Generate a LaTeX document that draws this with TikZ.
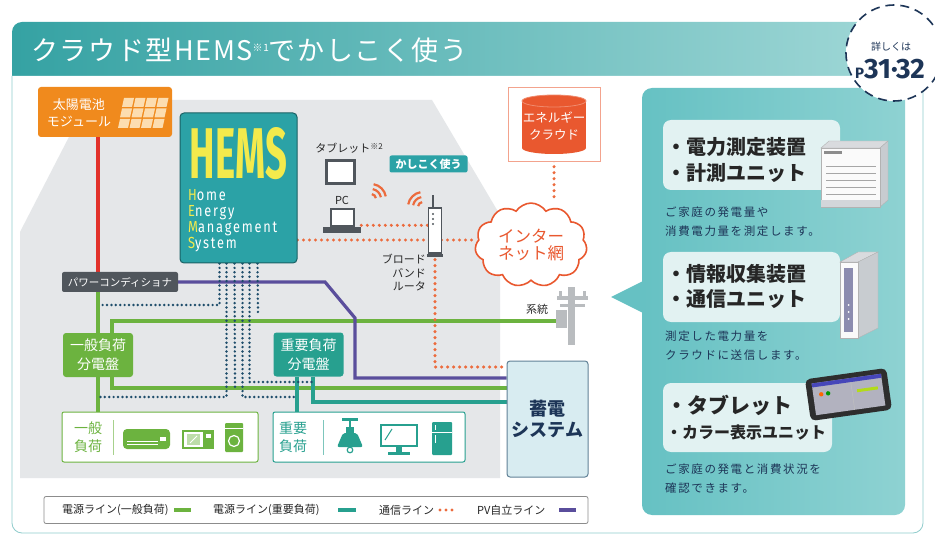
\documentclass[tikz,border=0pt]{standalone}
\usepackage{fontspec}
\setmainfont{Noto Sans CJK JP}
\newfontfamily\titlefont{Noto Sans CJK JP}[LetterSpace=6]
\newfontfamily\descfont{Noto Sans CJK JP}[LetterSpace=14]
\newfontfamily\latinfont{Fira Sans}
\newfontfamily\hemsfont{Fira Sans}[LetterSpace=14]
\usetikzlibrary{shapes.symbols,shapes.geometric}

\newcommand\fsz[2]{\fontsize{#1}{#2}\selectfont}
\newcommand\hemsword[2]{\scalebox{0.8}[1]{\textcolor{hemsyellow}{#1}#2}}

\definecolor{teal1}{HTML}{35A2A3}
\definecolor{teal2}{HTML}{A3D9D8}
\definecolor{housegrey}{HTML}{E5E7E9}
\definecolor{solarorange}{HTML}{F08A1D}
\definecolor{panelpeach}{HTML}{FCDDB0}
\definecolor{pvred}{HTML}{E2322B}
\definecolor{loadgreen}{HTML}{6CB33F}
\definecolor{keyteal}{HTML}{27A08F}
\definecolor{pvpurple}{HTML}{5A4E9C}
\definecolor{commorange}{HTML}{EC6B3D}
\definecolor{dotnavy}{HTML}{1E4D6B}
\definecolor{hemsteal}{HTML}{2BA2A6}
\definecolor{hemsyellow}{HTML}{F3EA4C}
\definecolor{panelteal}{HTML}{66C1C3}
\definecolor{panelteal2}{HTML}{8ED2D2}
\definecolor{cardbg}{HTML}{E2F2F2}
\definecolor{inknavy}{HTML}{1D3557}
\definecolor{pcsgrey}{HTML}{50565C}
\definecolor{storagebg}{HTML}{D8ECF1}
\definecolor{cloudred}{HTML}{E9582F}
\definecolor{polegrey}{HTML}{B9BCBF}
\definecolor{devgrey}{HTML}{C8CCD0}

\pgfdeclarelayer{canvas}
\pgfdeclarelayer{house}
\pgfdeclarelayer{wires}
\pgfsetlayers{canvas,house,wires,main}

\begin{document}
\begin{tikzpicture}[x=1pt,y=-1pt,
  wire/.style={line width=3.2pt},
  pvfeed/.style={wire, draw=pvred},
  greenline/.style={wire, draw=loadgreen},
  keyline/.style={wire, draw=keyteal},
  pvline/.style={wire, draw=pvpurple},
  commline/.style={draw=commorange, line width=3.4pt, line cap=round, dash pattern=on 0pt off 6pt},
  ctrlline/.style={draw=dotnavy, line width=2.7pt, line cap=round, dash pattern=on 0pt off 4.4pt},
  panelbox/.style={rounded corners=3pt, minimum width=70pt, minimum height=44pt, text=white, align=center, inner sep=0pt, font=\fsz{14}{19}},
  loadbox/.style={fill=white, line width=1pt, rounded corners=2pt, minimum width=#1, minimum height=50pt},
  loadlabel/.style={align=center, inner sep=0pt, font=\fsz{14}{18}},
  card/.style={fill=cardbg, rounded corners=8pt},
  cardhead/.style={anchor=west, inner sep=0pt, font=\bfseries\fsz{20}{20}, text=black!85},
  carddesc/.style={anchor=north west, inner sep=0pt, align=left, font=\descfont\fsz{11.5}{19}, text=inknavy},
  legendtext/.style={anchor=west, inner sep=0pt, font=\fsz{11}{11}, text=black!85},
  smalltext/.style={inner sep=0pt, font=\fsz{11}{13.5}, text=black!85},
  hemsline/.style={anchor=base west, inner sep=0pt, text=white, font=\hemsfont\fsz{16}{16}}
]
\useasboundingbox (0,0) rectangle (935,540);

% ---------- page, header band and frame ----------
\begin{pgfonlayer}{canvas}
\fill[white] (0,0) rectangle (935,540);
\shade[left color=teal1, right color=teal2, rounded corners=10pt] (12,22) rectangle (923,100);
\filldraw[fill=white, draw=teal1!55, line width=0.8pt, rounded corners=10pt] (12,76) -- (12,533) -- (923,533) -- (923,76);
\end{pgfonlayer}
\node[anchor=west, text=white, inner sep=0pt, font=\titlefont\fsz{27}{27}] (title) at (31,50)
  {クラウド型HEMS\raisebox{9pt}{\fsz{10}{10}※1}でかしこく使う};

% ---------- house ----------
\begin{pgfonlayer}{house}
\fill[housegrey] (20,478) -- (20,232) -- (88,100) -- (432,100) -- (500,215) -- (500,478) -- cycle;
\end{pgfonlayer}

% ---------- equipment ----------
\node[fill=solarorange, rounded corners=3pt, minimum width=134pt, minimum height=50pt] (solar) at (105,112) {};
\node[text=white, align=center, font=\fsz{13}{17}, inner sep=0pt] (solarlbl) at (79,113) {太陽電池\\モジュール};
\foreach \i in {0,...,3}
  \foreach \j in {0,...,2} {
    \pgfmathsetmacro\cx{118+\i*11.5+\j*2}
    \pgfmathsetmacro\cy{128-\j*10.5}
    \fill[panelpeach] (\cx,\cy) -- ++(10,0) -- ++(2,-9) -- ++(-10,0) -- cycle;
  }

\node[fill=pcsgrey, rounded corners=2pt, minimum width=116pt, minimum height=20pt, text=white, font=\fsz{10.5}{10.5}, inner sep=0pt] (pcs) at (120,282) {パワーコンディショナ};

\node[draw=hemsteal!60!black, fill=hemsteal, rounded corners=4pt, line width=1pt, minimum width=117pt, minimum height=150pt] (hems) at (238.5,188) {};
\node[text=hemsyellow, inner sep=0pt] (hemslogo) at (238.5,153.5) {\resizebox{97pt}{51pt}{\latinfont\bfseries HEMS}};
\node[hemsline] (hemsH) at (188,200.5) {\hemsword{H}{ome}};
\node[hemsline] (hemsE) at (188,216.5) {\hemsword{E}{nergy}};
\node[hemsline] (hemsM) at (188,232.5) {\hemsword{M}{anagement}};
\node[hemsline] (hemsS) at (188,248.5) {\hemsword{S}{ystem}};

% tablet and PC
\node[smalltext] (tabletlbl) at (349,148) {タブレット\raisebox{3pt}{\fsz{8}{8}※2}};
\node[draw=pcsgrey, line width=3pt, fill=white, minimum width=28pt, minimum height=23pt, inner sep=0pt] (tablet) at (340,172) {};
\node[smalltext] (pclbl) at (342,200) {PC};
\node[draw=pcsgrey, line width=2.6pt, fill=white, minimum width=23pt, minimum height=17pt, inner sep=0pt] (pc) at (342.5,217.5) {};
\fill[pcsgrey] (323,227) rectangle (361,233);

% wireless marks
\foreach \r in {5,10,15}
  \draw[commorange, line width=2.2pt] (371,199) ++(-80:\r) arc[start angle=-80, end angle=-10, radius=\r];
\foreach \r in {5,10,15}
  \draw[commorange, line width=2.2pt] (423,207) ++(190:\r) arc[start angle=190, end angle=260, radius=\r];

\node[fill=hemsteal, rounded corners=2pt, text=white, font=\bfseries\fsz{11}{11}, minimum width=78pt, minimum height=17pt, inner sep=0pt] (smart) at (428.5,164) {かしこく使う};

% router
\node[draw=pcsgrey, fill=white, line width=1.3pt, minimum width=13pt, minimum height=45pt, inner sep=0pt] (router) at (435,230.5) {};
\draw[pcsgrey, line width=1.5pt] ([xshift=-2pt]router.north) -- ++(0,-12);
\fill[pcsgrey] ([xshift=-8pt]router.south) rectangle ([xshift=8pt,yshift=-3pt]router.south);
\foreach \dy in {214,219,224} \fill[pcsgrey] (433,\dy) circle (1.1);
\node[smalltext, anchor=north east, align=right] (routerlbl) at (426,254) {ブロード\\バンド\\ルータ};

% energy cloud
\node[draw=cloudred!55, fill=white, line width=1pt, minimum width=92pt, minimum height=74pt] (ecloudbox) at (554,125) {};
\fill[cloudred] (522,101) rectangle (586,148);
\fill[cloudred] (554,148) ellipse [x radius=32, y radius=6];
\filldraw[fill=cloudred, draw=cloudred!70!white, line width=0.8pt] (554,101) ellipse [x radius=32, y radius=6];
\node[text=white, align=center, font=\fsz{12.5}{17}, inner sep=0pt, minimum width=64pt, minimum height=57pt] (ecloud) at (554,126) {エネルギー\\クラウド};

% internet
\node[cloud, cloud puffs=11, cloud puff arc=115, aspect=1.45, draw=cloudred, fill=white, line width=1.6pt,
  minimum width=112pt, minimum height=80pt, text=cloudred, align=center, font=\fsz{16.5}{17}] (inet) at (531,245) {インター\\ネット網};

% utility grid pole
\node[smalltext] (gridlbl) at (537,309) {系統};
\fill[polegrey] (568,287) rectangle (575,345);
\fill[polegrey] (557,296) rectangle (588,300);
\fill[polegrey] (560,304) rectangle (585,307);
\fill[polegrey] (559,291) rectangle (562,296);
\fill[polegrey] (583,291) rectangle (586,296);
\fill[polegrey] (556,310) rectangle (567,328);
\coordinate (gridtap) at (557,321);

% storage
\node[draw=dotnavy!70, fill=storagebg, rounded corners=3pt, line width=1pt, minimum width=81pt, minimum height=116pt,
  text=inknavy, align=center, font=\bfseries\fsz{18}{21}] (storage) at (547.5,419) {蓄電\\システム};

% distribution panels
\node[panelbox, fill=loadgreen] (genpanel) at (98,355) {一般負荷\\分電盤};
\node[panelbox, fill=keyteal] (imppanel) at (308.5,354.5) {重要負荷\\分電盤};

% general loads
\node[loadbox=196pt, draw=loadgreen] (genload) at (160,437) {};
\node[loadlabel, text=loadgreen] (genloadlbl) at (88,437) {一般\\負荷};
\draw[loadgreen!60, line width=0.8pt] (113,420) -- (113,455);
\fill[loadgreen, rounded corners=4pt] (123,429) rectangle (170,449);
\draw[white, line width=0.8pt] (127,441) -- (158,441) (127,444.5) -- (158,444.5);
\fill[white] (160,437) rectangle (166,441);
\filldraw[fill=white, draw=loadgreen, line width=2pt] (183,431) rectangle (213,448);
\fill[loadgreen] (203,431) rectangle (213,448);
\fill[white] (205.5,434) rectangle (210.5,438);
\fill[loadgreen!45] (187,434) rectangle (200,445);
\draw[white, line width=1pt] (190,443) -- (197,436);
\fill[loadgreen, rounded corners=1pt] (225,423) rectangle (243,452);
\draw[white, line width=0.8pt] (225,428) -- (243,428);
\draw[white, line width=1.2pt] (234,441) circle (5.5);

% important loads
\node[loadbox=192pt, draw=keyteal] (impload) at (369,437) {};
\node[loadlabel, text=keyteal] (imploadlbl) at (293,437) {重要\\負荷};
\draw[keyteal!60, line width=0.8pt] (323,420) -- (323,455);
\fill[keyteal] (342,418) rectangle (358,420.5);
\draw[keyteal, line width=1.5pt] (350,420) -- (350,429);
\fill[keyteal] (346,427) rectangle (354,433);
\fill[keyteal, rounded corners=2pt] (337,447) -- (343,433) -- (357,433) -- (363,447) -- cycle;
\draw[keyteal, line width=1.2pt] (350,450) circle (2.8);
\draw[keyteal, line width=2.6pt] (381,425) rectangle (417,446);
\draw[keyteal, line width=1pt] (385,440) -- (392,429);
\fill[keyteal] (396,446) rectangle (402,452);
\fill[keyteal] (388,452) rectangle (410,455);
\fill[keyteal, rounded corners=1pt] (432,422) rectangle (452,455);
\draw[white, line width=0.9pt] (432,432) -- (452,432);
\draw[white, line width=1pt] (435.5,425) -- (435.5,430) (435.5,435) -- (435.5,443);

% ---------- wiring ----------
\coordinate (pvbend1) at (325,282);
\coordinate (pvbend2) at (355,318);
\coordinate (hemsport) at ([yshift=-52pt]hems.east);
\coordinate (tapA) at (102,305);
\coordinate (tapB) at (98,397);
\coordinate (tapC) at (235,390);
\coordinate (tapD) at (297,397);
\coordinate (tapE) at (313,382);
\coordinate (tapF) at (258,316);

\begin{pgfonlayer}{wires}
\draw[pvfeed] (solar.south -| genpanel) -- (pcs.north -| genpanel);
\draw[greenline] (pcs.south -| genpanel) -- (genpanel.north);
\draw[greenline] (genpanel.south) -- (genload.north -| genpanel);
\draw[greenline] ([xshift=14pt]genpanel.north) |- (gridtap);
\draw[greenline] ([xshift=14pt]genpanel.south) |- ([yshift=31pt]storage.west);
\draw[pvline] (pcs.east) -- (pvbend1) -- (pvbend2) |- ([yshift=41pt]storage.west);
\draw[keyline] ([xshift=4.5pt]imppanel.south) |- ([yshift=17pt]storage.west);
\draw[keyline] ([xshift=-11.5pt]imppanel.south) -- ([xshift=-11.5pt]imppanel.south |- impload.north);
% measuring / control bundle from HEMS
\draw[ctrlline] ([xshift=-19pt]hems.south) |- (tapA);
\draw[ctrlline] ([xshift=-12pt]hems.south) |- (tapB);
\draw[ctrlline] ([xshift=-4pt]hems.south) -- (tapC);
\draw[ctrlline] ([xshift=4pt]hems.south) |- (tapD);
\draw[ctrlline] ([xshift=11pt]hems.south) |- (tapE);
\draw[ctrlline] ([xshift=19pt]hems.south) -- (tapF);
% communication lines
\draw[commline] (hemsport) -- (hemsport -| inet.west);
\draw[commline] ([xshift=6pt,yshift=2pt]pc.south east) -- ([xshift=6pt,yshift=2pt]pc.south east -| router.west);
\draw[commline] (router.south) |- ([yshift=52pt]storage.west);
\draw[commline] (ecloud.south) -- (ecloud.south |- inet.north);
\end{pgfonlayer}

% ---------- legend ----------
\node[draw=black!45, fill=white, rounded corners=2pt, line width=0.8pt, minimum width=544pt, minimum height=27pt] (legend) at (316,510) {};
\node[legendtext] (legA) at (62,510) {電源ライン(一般負荷)};
\draw[greenline, line width=3.4pt] (174,510) -- (191,510);
\node[legendtext] (legB) at (213,510) {電源ライン(重要負荷)};
\draw[keyline, line width=3.4pt] (338,510) -- (356,510);
\node[legendtext] (legC) at (379,510) {通信ライン};
\draw[commline, dash pattern=on 0pt off 6pt] (440,510) -- (455,510);
\node[legendtext] (legD) at (477,510) {PV自立ライン};
\draw[pvline, line width=3.4pt] (559,510) -- (576,510);

% ---------- equipment panel ----------
\shade[left color=panelteal, right color=panelteal2, rounded corners=10pt] (642,88) rectangle (905,515);
\fill[panelteal] (643,281) -- (611,297) -- (643,313) -- cycle;

\node[card, minimum width=177pt, minimum height=70pt] (card1) at (751.5,155) {};
\node[cardhead] (card1a) at (666,147) {・電力測定装置};
\node[cardhead] (card1b) at (666,173) {・計測ユニット};
\node[carddesc] (card1d) at (665,207) {ご家庭の発電量や\\消費電力量を測定します。};

\node[card, minimum width=177pt, minimum height=70pt] (card2) at (751.5,287) {};
\node[cardhead] (card2a) at (666,274) {・情報収集装置};
\node[cardhead] (card2b) at (666,299) {・通信ユニット};
\node[carddesc] (card2d) at (665,331) {測定した電力量を\\クラウドに送信します。};

\node[card, minimum width=169pt, minimum height=69pt] (card3) at (747.5,417.5) {};
\node[cardhead, font=\bfseries\fsz{21}{21}] (card3a) at (666,405) {・タブレット};
\node[cardhead, font=\bfseries\fsz{16}{16}] (card3b) at (666,432) {・カラー表示ユニット};
\node[carddesc] (card3d) at (665,464) {ご家庭の発電と消費状況を\\確認できます。};

% measuring unit
\filldraw[fill=devgrey!70, draw=black!30, line width=0.4pt] (821,148) -- (829,141) -- (888,141) -- (880,148) -- cycle;
\filldraw[fill=devgrey, draw=black!30, line width=0.4pt] (880,148) -- (888,141) -- (888,200) -- (880,207) -- cycle;
\filldraw[fill=white!96!gray, draw=black!30, line width=0.4pt] (821,148) rectangle (880,207);
\fill[black!45] (824,151) rectangle (842,154);
\foreach \ly in {166,173,180,187,194} \draw[black!35, line width=0.6pt] (826,\ly) -- (876,\ly);
\fill[devgrey!80] (821,200) rectangle (880,207);

% communication unit
\filldraw[fill=devgrey!70, draw=black!30, line width=0.4pt] (840,262) -- (858,252) -- (878,252) -- (858,262) -- cycle;
\filldraw[fill=devgrey, draw=black!30, line width=0.4pt] (858,262) -- (878,252) -- (878,328) -- (858,338) -- cycle;
\filldraw[fill=white!96!gray, draw=black!30, line width=0.4pt] (840,262) rectangle (858,338);
\fill[blue!30!black!45!white] (844,268) rectangle (853,332);
\foreach \ly in {305,312,319} \fill[white] (848.5,\ly) circle (1);

% tablet terminal
\begin{scope}[shift={(848.5,394.5)}, rotate=8]
  \fill[black!82, rounded corners=5pt] (-41,-21) rectangle (41,21);
  \fill[white!90!blue!50!gray] (-35,-16) rectangle (35,16);
  \fill[blue!45!gray] (-35,-16) rectangle (35,-12);
  \draw[black!25, line width=0.5pt] (4,-12) -- (4,16);
  \fill[orange!80!red] (-27,-4) circle (2.2);
  \fill[green!60!black] (-20,-4) circle (2.2);
  \fill[yellow!70!green] (9,-4) rectangle (30,-1);
\end{scope}

% page reference badge
\node[circle, draw=inknavy, dash pattern=on 9pt off 6pt, line width=1.6pt, fill=white, minimum size=96pt] (pageref) at (894,53) {};
\node[inner sep=0pt, font=\fsz{10}{10}, text=inknavy] (pagerefhead) at (891,47) {詳しくは};
\node[inner sep=0pt, text=inknavy, font=\latinfont\bfseries] (pagerefnum) at (890,69)
  {\fsz{15}{15}P\fsz{28}{28}31·32};

\end{tikzpicture}
\end{document}
